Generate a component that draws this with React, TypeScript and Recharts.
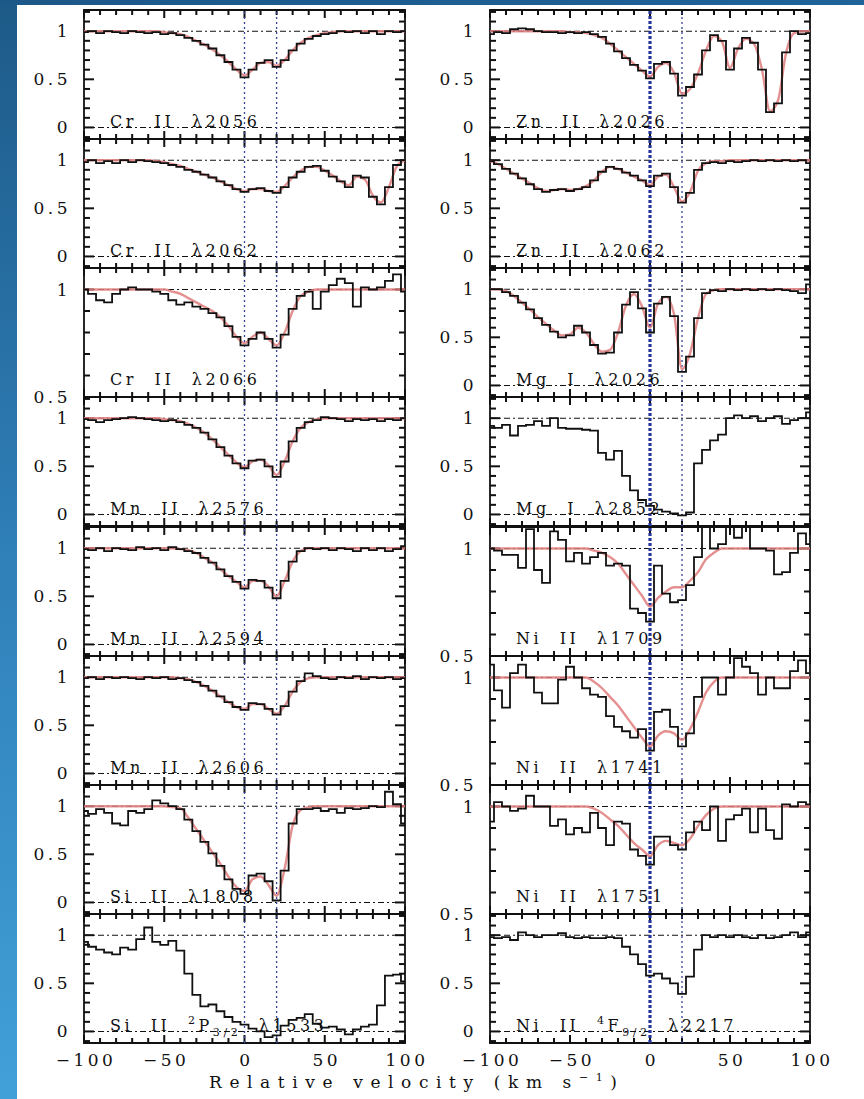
import React from 'react'
import { LineChart, Line, XAxis, YAxis, ReferenceLine, ReferenceArea } from 'recharts'

// velocity grid (km/s) shared by every panel
const VELOCITY = [-100, -95, -90, -85, -80, -75, -70, -65, -60, -55, -50, -45, -40, -35, -30, -25, -20, -15, -10, -5, 0, 5, 10, 15, 20, 25, 30, 35, 40, 45, 50, 55, 60, 65, 70, 75, 80, 85, 90, 95, 100]

const X_MINOR = [-100, -90, -80, -70, -60, -50, -40, -30, -20, -10, 0, 10, 20, 30, 40, 50, 60, 70, 80, 90, 100]
const X_MAJOR = [-100, -50, 0, 50, 100]
const Y_MINOR_FULL = [-0.1, 0, 0.1, 0.2, 0.3, 0.4, 0.5, 0.6, 0.7, 0.8, 0.9, 1, 1.1, 1.2]
const Y_MINOR_HALF = [0.5, 0.6, 0.7, 0.8, 0.9, 1, 1.1]
const Y_MAJOR_FULL = [0, 0.5, 1]
const Y_MAJOR_HALF = [0.5, 1]

// normalised flux (black histogram) and fit (red) per transition
const CR2056 = [0.99, 1.0, 0.98, 1.0, 0.99, 0.98, 1.0, 0.99, 0.98, 0.99, 0.97, 0.98, 0.96, 0.93, 0.90, 0.86, 0.82, 0.75, 0.68, 0.60, 0.52, 0.60, 0.67, 0.70, 0.63, 0.70, 0.80, 0.87, 0.92, 0.95, 0.97, 0.98, 1.0, 0.99, 1.0, 0.98, 1.0, 0.97, 1.0, 0.99, 1.0]
const CR2056_FIT = [1, 1, 1, 1, 1, 1, 1, 1, 1, 1, 0.99, 0.98, 0.97, 0.94, 0.90, 0.86, 0.81, 0.75, 0.68, 0.60, 0.54, 0.60, 0.67, 0.68, 0.64, 0.70, 0.80, 0.88, 0.93, 0.96, 0.98, 0.99, 1, 1, 1, 1, 1, 1, 1, 1, 1]

const CR2062 = [0.98, 1.0, 0.97, 0.99, 0.97, 1.0, 0.98, 1.0, 0.99, 0.98, 0.97, 0.95, 0.93, 0.90, 0.88, 0.85, 0.82, 0.78, 0.74, 0.70, 0.67, 0.70, 0.71, 0.68, 0.66, 0.72, 0.82, 0.88, 0.93, 0.94, 0.89, 0.83, 0.78, 0.72, 0.84, 0.82, 0.62, 0.54, 0.72, 0.95, 1.0]
const CR2062_FIT = [1, 1, 1, 1, 1, 1, 1, 1, 1, 0.99, 0.98, 0.96, 0.94, 0.91, 0.88, 0.85, 0.82, 0.78, 0.74, 0.70, 0.68, 0.70, 0.70, 0.68, 0.67, 0.73, 0.82, 0.89, 0.93, 0.93, 0.89, 0.84, 0.78, 0.74, 0.83, 0.80, 0.63, 0.56, 0.72, 0.94, 1.0]

const CR2066 = [1.0, 0.98, 0.95, 0.94, 0.98, 1.0, 1.01, 1.0, 1.0, 0.99, 0.98, 0.95, 0.93, 0.94, 0.92, 0.91, 0.89, 0.87, 0.83, 0.78, 0.74, 0.77, 0.80, 0.77, 0.73, 0.79, 0.91, 0.97, 0.99, 0.91, 0.99, 1.02, 1.05, 1.03, 0.92, 1.01, 1.0, 1.01, 1.04, 1.07, 0.99]
const CR2066_FIT = [1, 1, 1, 1, 1, 1, 1, 1, 1, 1, 1, 0.99, 0.98, 0.96, 0.94, 0.92, 0.90, 0.87, 0.83, 0.78, 0.75, 0.78, 0.80, 0.77, 0.74, 0.80, 0.90, 0.97, 0.99, 1, 1, 1, 1, 1, 1, 1, 1, 1, 1, 1, 1]

const MN2576 = [0.99, 0.98, 0.96, 0.98, 0.99, 1.0, 1.01, 1.0, 0.99, 0.98, 0.97, 0.98, 0.96, 0.93, 0.90, 0.85, 0.78, 0.70, 0.61, 0.53, 0.48, 0.56, 0.57, 0.50, 0.39, 0.55, 0.76, 0.90, 0.96, 0.98, 1.01, 1.0, 0.99, 0.97, 0.99, 0.98, 0.99, 0.97, 0.99, 0.98, 1.0]
const MN2576_FIT = [1, 1, 1, 1, 1, 1, 1, 1, 1, 1, 0.99, 0.98, 0.97, 0.94, 0.90, 0.85, 0.78, 0.70, 0.62, 0.54, 0.49, 0.55, 0.57, 0.51, 0.41, 0.55, 0.76, 0.90, 0.96, 0.99, 1, 1, 1, 1, 1, 1, 1, 1, 1, 1, 1]

const MN2594 = [0.99, 0.98, 1.0, 0.97, 1.0, 0.99, 0.98, 1.01, 0.99, 1.0, 0.98, 1.01, 0.99, 0.97, 0.95, 0.90, 0.85, 0.78, 0.71, 0.65, 0.58, 0.67, 0.66, 0.59, 0.48, 0.66, 0.86, 0.97, 1.0, 0.99, 1.0, 0.98, 1.0, 0.99, 0.97, 1.0, 0.98, 1.0, 0.97, 0.99, 1.02]
const MN2594_FIT = [1, 1, 1, 1, 1, 1, 1, 1, 1, 1, 1, 1, 0.99, 0.98, 0.95, 0.90, 0.85, 0.78, 0.71, 0.65, 0.59, 0.66, 0.66, 0.60, 0.50, 0.66, 0.86, 0.97, 1, 1, 1, 1, 1, 1, 1, 1, 1, 1, 1, 1, 1]

const MN2606 = [0.99, 1.0, 0.98, 1.0, 0.99, 1.0, 0.99, 0.98, 1.0, 0.99, 1.0, 0.98, 0.99, 0.97, 0.95, 0.91, 0.86, 0.80, 0.74, 0.69, 0.66, 0.73, 0.72, 0.67, 0.61, 0.70, 0.85, 0.96, 1.04, 1.01, 0.99, 0.98, 1.0, 0.99, 1.01, 0.98, 1.0, 0.99, 1.0, 0.98, 0.99]
const MN2606_FIT = [1, 1, 1, 1, 1, 1, 1, 1, 1, 1, 1, 1, 0.99, 0.98, 0.95, 0.91, 0.86, 0.80, 0.74, 0.69, 0.67, 0.72, 0.72, 0.67, 0.62, 0.70, 0.85, 0.95, 0.99, 1, 1, 1, 1, 1, 1, 1, 1, 1, 1, 1, 1]

const SI1808 = [0.95, 0.92, 0.97, 0.93, 0.82, 0.80, 0.95, 0.93, 0.97, 1.06, 1.03, 1.0, 0.97, 0.86, 0.74, 0.63, 0.51, 0.38, 0.24, 0.14, 0.09, 0.28, 0.30, 0.22, 0.02, 0.33, 0.82, 0.97, 0.97, 0.98, 0.95, 0.97, 0.93, 0.98, 0.97, 0.98, 1.0, 0.99, 1.15, 1.02, 0.82]
const SI1808_FIT = [1, 1, 1, 1, 1, 1, 1, 1, 1, 1, 1, 0.99, 0.98, 0.88, 0.76, 0.64, 0.52, 0.40, 0.27, 0.16, 0.12, 0.24, 0.27, 0.18, 0.07, 0.35, 0.80, 0.96, 0.99, 1, 1, 1, 1, 1, 1, 1, 1, 1, 1, 1, 1]

const SI1533 = [0.93, 0.88, 0.85, 0.82, 0.80, 0.87, 0.85, 0.96, 1.08, 0.93, 0.90, 0.94, 0.84, 0.60, 0.38, 0.26, 0.28, 0.21, 0.15, 0.10, 0.07, 0.03, 0.0, -0.06, -0.04, 0.06, 0.12, 0.14, 0.18, 0.08, 0.04, 0.05, 0.02, -0.03, 0.02, 0.05, 0.07, 0.27, 0.58, 0.59, 0.52]

const ZN2026 = [0.97, 0.99, 0.98, 1.02, 1.03, 1.02, 1.0, 0.99, 0.99, 0.98, 0.99, 0.98, 0.99, 0.97, 0.94, 0.87, 0.79, 0.72, 0.65, 0.59, 0.51, 0.66, 0.68, 0.56, 0.33, 0.42, 0.55, 0.80, 0.96, 0.90, 0.60, 0.82, 0.93, 0.88, 0.60, 0.16, 0.25, 0.78, 1.0, 0.97, 0.98]
const ZN2026_FIT = [1, 1, 1, 1, 1, 1, 1, 1, 1, 1, 0.99, 0.99, 0.98, 0.96, 0.93, 0.87, 0.80, 0.73, 0.66, 0.59, 0.53, 0.63, 0.67, 0.57, 0.35, 0.40, 0.56, 0.80, 0.95, 0.89, 0.62, 0.82, 0.92, 0.87, 0.60, 0.17, 0.28, 0.77, 0.98, 1, 1]

const ZN2062 = [0.99, 0.96, 0.91, 0.86, 0.81, 0.75, 0.70, 0.67, 0.69, 0.70, 0.68, 0.70, 0.72, 0.79, 0.88, 0.93, 0.91, 0.87, 0.84, 0.79, 0.73, 0.84, 0.86, 0.72, 0.56, 0.66, 0.90, 0.97, 0.98, 0.97, 0.99, 0.98, 0.99, 1.0, 0.99, 1.0, 0.99, 1.0, 0.99, 1.0, 0.97]
const ZN2062_FIT = [0.99, 0.96, 0.91, 0.86, 0.81, 0.76, 0.71, 0.68, 0.69, 0.70, 0.69, 0.70, 0.73, 0.79, 0.88, 0.93, 0.91, 0.87, 0.83, 0.79, 0.74, 0.83, 0.85, 0.72, 0.57, 0.67, 0.89, 0.97, 0.99, 0.99, 1, 1, 1, 1, 1, 1, 1, 1, 1, 1, 1]

const MG2026 = [1.0, 1.0, 0.97, 0.93, 0.86, 0.79, 0.70, 0.63, 0.56, 0.50, 0.52, 0.62, 0.55, 0.42, 0.33, 0.34, 0.55, 0.84, 0.97, 0.80, 0.55, 0.85, 0.92, 0.72, 0.14, 0.30, 0.70, 0.96, 0.99, 0.98, 1.0, 0.99, 1.0, 0.99, 1.0, 0.99, 1.0, 0.99, 0.98, 0.96, 1.05]
const MG2026_FIT = [1, 1, 0.98, 0.93, 0.86, 0.79, 0.71, 0.64, 0.57, 0.52, 0.53, 0.60, 0.55, 0.43, 0.35, 0.37, 0.55, 0.83, 0.95, 0.82, 0.60, 0.85, 0.92, 0.74, 0.17, 0.33, 0.70, 0.95, 0.99, 1, 1, 1, 1, 1, 1, 1, 1, 1, 1, 1, 1]

const MG2852 = [0.92, 0.90, 0.93, 0.82, 0.92, 0.93, 0.97, 0.92, 1.0, 0.90, 0.89, 0.89, 0.88, 0.87, 0.64, 0.57, 0.66, 0.40, 0.25, 0.15, 0.09, 0.05, 0.03, 0.01, -0.01, 0.02, 0.53, 0.67, 0.77, 0.83, 1.0, 1.03, 1.0, 1.02, 0.97, 1.0, 1.02, 0.94, 0.98, 1.0, 1.06]

const NI1709 = [1.0, 0.99, 0.97, 0.97, 0.91, 1.09, 0.90, 0.84, 1.08, 1.04, 0.94, 0.98, 0.93, 0.96, 0.98, 0.92, 0.93, 0.92, 0.72, 0.70, 0.66, 0.92, 0.79, 0.75, 0.76, 0.83, 0.96, 1.10, 1.0, 1.02, 1.10, 1.05, 1.10, 1.0, 1.0, 0.99, 0.88, 0.89, 0.98, 1.07, 1.02]
const NI1709_FIT = [1, 1, 1, 1, 1, 1, 1, 1, 1, 1, 1, 1, 1, 0.99, 0.98, 0.96, 0.93, 0.88, 0.83, 0.78, 0.73, 0.77, 0.80, 0.82, 0.82, 0.85, 0.89, 0.95, 0.98, 1, 1, 1, 1, 1, 1, 1, 1, 1, 1, 1, 1]

const NI1741 = [1.06, 0.94, 0.86, 1.02, 1.06, 1.0, 0.93, 0.88, 0.88, 0.99, 1.05, 1.0, 0.95, 0.92, 0.91, 0.82, 0.77, 0.75, 0.72, 0.76, 0.66, 0.84, 0.85, 0.77, 0.68, 0.74, 0.91, 1.0, 1.0, 0.92, 1.0, 1.09, 1.05, 1.02, 0.92, 1.0, 0.95, 0.95, 1.03, 1.08, 1.02]
const NI1741_FIT = [1, 1, 1, 1, 1, 1, 1, 1, 1, 1, 1, 1, 1, 0.98, 0.95, 0.91, 0.87, 0.82, 0.77, 0.72, 0.68, 0.73, 0.75, 0.74, 0.71, 0.76, 0.84, 0.93, 0.98, 1, 1, 1, 1, 1, 1, 1, 1, 1, 1, 1, 1]

const NI1751 = [0.93, 1.02, 1.0, 0.98, 0.99, 1.05, 1.0, 1.0, 0.91, 0.94, 0.87, 0.90, 0.88, 0.97, 0.90, 0.82, 0.93, 0.92, 0.80, 0.77, 0.73, 0.86, 0.86, 0.82, 0.80, 0.88, 0.93, 0.89, 1.0, 0.84, 0.94, 0.96, 0.99, 0.88, 0.99, 0.89, 0.85, 1.01, 1.0, 1.02, 1.01]
const NI1751_FIT = [1, 1, 1, 1, 1, 1, 1, 1, 1, 1, 1, 1, 1, 0.99, 0.97, 0.94, 0.91, 0.87, 0.83, 0.80, 0.77, 0.82, 0.84, 0.83, 0.82, 0.85, 0.91, 0.96, 0.99, 1, 1, 1, 1, 1, 1, 1, 1, 1, 1, 1, 1]

const NI2217 = [0.98, 0.97, 0.98, 0.95, 1.03, 1.0, 0.98, 1.0, 1.0, 1.02, 0.98, 0.97, 0.98, 0.97, 0.97, 0.98, 0.97, 0.88, 0.80, 0.70, 0.58, 0.60, 0.55, 0.50, 0.39, 0.57, 0.85, 1.0, 0.98, 1.0, 0.98, 1.0, 0.98, 0.97, 1.0, 0.97, 0.98, 1.0, 1.03, 0.98, 1.03]

type Panel = {
  ion: string
  line: string
  level?: [string, string, string]
  flux: number[]
  fit?: number[]
  half?: boolean
}

const LEFT_PANELS: Panel[] = [
  { ion: 'Cr  II', line: 'λ2056', flux: CR2056, fit: CR2056_FIT },
  { ion: 'Cr  II', line: 'λ2062', flux: CR2062, fit: CR2062_FIT },
  { ion: 'Cr  II', line: 'λ2066', flux: CR2066, fit: CR2066_FIT, half: true },
  { ion: 'Mn  II', line: 'λ2576', flux: MN2576, fit: MN2576_FIT },
  { ion: 'Mn  II', line: 'λ2594', flux: MN2594, fit: MN2594_FIT },
  { ion: 'Mn  II', line: 'λ2606', flux: MN2606, fit: MN2606_FIT },
  { ion: 'Si  II', line: 'λ1808', flux: SI1808, fit: SI1808_FIT },
  { ion: 'Si  II', line: 'λ1533', level: ['2', 'P', '3/2'], flux: SI1533 },
]

const RIGHT_PANELS: Panel[] = [
  { ion: 'Zn  II', line: 'λ2026', flux: ZN2026, fit: ZN2026_FIT },
  { ion: 'Zn  II', line: 'λ2062', flux: ZN2062, fit: ZN2062_FIT },
  { ion: 'Mg  I', line: 'λ2026', flux: MG2026, fit: MG2026_FIT },
  { ion: 'Mg  I', line: 'λ2852', flux: MG2852 },
  { ion: 'Ni  II', line: 'λ1709', flux: NI1709, fit: NI1709_FIT, half: true },
  { ion: 'Ni  II', line: 'λ1741', flux: NI1741, fit: NI1741_FIT, half: true },
  { ion: 'Ni  II', line: 'λ1751', flux: NI1751, fit: NI1751_FIT, half: true },
  { ion: 'Ni  II', line: 'λ2217', level: ['4', 'F', '9/2'], flux: NI2217 },
]

const FONT = "'DejaVu Serif', 'Liberation Serif', serif"
const INK = '#111'
const COL_LEFT = [84, 490]
const COL_WIDTH = [321, 320]
const ROW_TOP = [10, 139, 268, 397, 527, 656, 785, 914]
const ROW_H = 129

const near = (a: number, b: number) => Math.abs(a - b) < 1e-6
const fmt = (v: number) => (v < 0 ? '\u2212' + Math.abs(v) : String(v))
const noLabel = () => <g />

const xLabel = (props: any) => (
  <text x={props.x + 2} y={props.y + 23} textAnchor="middle" fontFamily={FONT} fontSize={17} letterSpacing={3.5} fill={INK}>
    {fmt(props.payload.value)}
  </text>
)

const yLabel = (props: any) => (
  <text x={props.x - 13} y={props.y} textAnchor="end" dominantBaseline="central" fontFamily={FONT} fontSize={17} letterSpacing={3.5} fill={INK}>
    {String(props.payload.value)}
  </text>
)

function SpectrumPanel({ panel, col, row }: { panel: Panel; col: number; row: number }) {
  const last = row === ROW_TOP.length - 1
  const margin = { top: 3, right: 25, bottom: last ? 35 : 13, left: 61 }
  const width = COL_WIDTH[col] + margin.left + margin.right + 1
  const height = ROW_H + margin.top + margin.bottom + 1
  const [lo, hi] = panel.half ? [0.5, 1.1] : [-0.12, 1.22]
  const yMinor = panel.half ? Y_MINOR_HALF : Y_MINOR_FULL
  const yMajor = panel.half ? Y_MAJOR_HALF : Y_MAJOR_FULL
  const rows = VELOCITY.map((v, i) => ({ v, flux: panel.flux[i], fit: panel.fit ? panel.fit[i] : null }))
  // tick lengths (px) converted to data units of each axis
  const yPerPx = (hi - lo) / ROW_H
  const xPerPx = 200 / COL_WIDTH[col]
  const xTickLen = (v: number) => (X_MAJOR.includes(v) ? 8 : 5) * yPerPx
  const yTickLen = (t: number) => (yMajor.some((m) => near(m, t)) ? 10 : 6) * xPerPx
  const tickProps = { stroke: INK, strokeWidth: 2, ifOverflow: 'visible' as const }
  const zeroLine = col === 1 ? { stroke: '#25349a', strokeWidth: 3.2, dash: '3 2' } : { stroke: '#33449a', strokeWidth: 1.3, dash: '2 3' }

  return (
    <div style={{ position: 'absolute', left: COL_LEFT[col] - margin.left - 1, top: ROW_TOP[row] - margin.top }}>
      <LineChart width={width} height={height} data={rows} margin={margin}>
        <XAxis dataKey="v" type="number" domain={[-100, 100]} allowDataOverflow ticks={X_MAJOR} interval={0}
          height={1} tickSize={0} tickMargin={0} tickLine={false} axisLine={false} tick={last ? xLabel : noLabel} />
        <YAxis type="number" domain={[lo, hi]} allowDataOverflow ticks={yMajor} interval={0}
          width={1} tickSize={0} tickMargin={0} tickLine={false} axisLine={false} tick={yLabel} />
        <ReferenceArea x1={-100} x2={100} y1={lo} y2={hi} fill="none" fillOpacity={0} stroke={INK} strokeWidth={1.8} ifOverflow="visible" />
        {X_MINOR.map((v) => (
          <ReferenceLine key={'xb' + v} segment={[{ x: v, y: lo }, { x: v, y: lo + xTickLen(v) }]} {...tickProps} />
        ))}
        {X_MINOR.map((v) => (
          <ReferenceLine key={'xt' + v} segment={[{ x: v, y: hi }, { x: v, y: hi - xTickLen(v) }]} {...tickProps} />
        ))}
        {yMinor.map((t) => (
          <ReferenceLine key={'yl' + t} segment={[{ x: -100, y: t }, { x: -100 + yTickLen(t), y: t }]} {...tickProps} />
        ))}
        {yMinor.map((t) => (
          <ReferenceLine key={'yr' + t} segment={[{ x: 100, y: t }, { x: 100 - yTickLen(t), y: t }]} {...tickProps} />
        ))}
        <ReferenceLine y={1} stroke={INK} strokeWidth={1.1} strokeDasharray="6 3 2 3" />
        <ReferenceLine y={0} stroke={INK} strokeWidth={1.1} strokeDasharray="6 3 2 3" />
        <ReferenceLine x={0} stroke={zeroLine.stroke} strokeWidth={zeroLine.strokeWidth} strokeDasharray={zeroLine.dash} />
        <ReferenceLine x={20} stroke="#33449a" strokeWidth={1.3} strokeDasharray="2 3" />
        {panel.fit && (
          <Line dataKey="fit" type="monotone" stroke="#e07c7c" strokeWidth={2.4} strokeOpacity={0.85} dot={false} isAnimationActive={false} />
        )}
        <Line dataKey="flux" type="step" stroke="#111" strokeWidth={1.8} dot={false} isAnimationActive={false} />
      </LineChart>
    </div>
  )
}

function PanelLabel({ panel, col, row }: { panel: Panel; col: number; row: number }) {
  const x = COL_LEFT[col] + 26
  const y = ROW_TOP[row] + 117
  return (
    <text x={x} y={y} fontFamily={FONT} fontSize={16} letterSpacing={3.6} fill={INK} style={{ whiteSpace: 'pre' }}>
      {panel.ion + '  '}
      {panel.level ? (
        <>
          <tspan fontSize={11} dy={-7}>{panel.level[0]}</tspan>
          <tspan dy={7}>{panel.level[1]}</tspan>
          <tspan fontSize={11} dy={5}>{panel.level[2]}</tspan>
          <tspan dy={-5}>{'  ' + panel.line}</tspan>
        </>
      ) : (
        panel.line
      )}
    </text>
  )
}

export default function App() {
  return (
    <div style={{ position: 'absolute', left: 0, top: 0, width: 864, height: 1099, background: '#fff', overflow: 'hidden' }}>
      <div style={{ position: 'absolute', left: 0, top: 0, width: 17, height: 1099, background: 'linear-gradient(180deg, #1d5a88 0%, #2f7fb8 50%, #42a0d8 100%)' }} />
      <div style={{ position: 'absolute', left: 0, top: 0, width: 864, height: 5, background: 'linear-gradient(90deg, #1c5888 0%, #1f639a 100%)' }} />
      {LEFT_PANELS.map((p, i) => (
        <SpectrumPanel key={'l' + i} panel={p} col={0} row={i} />
      ))}
      {RIGHT_PANELS.map((p, i) => (
        <SpectrumPanel key={'r' + i} panel={p} col={1} row={i} />
      ))}
      <svg width={864} height={1099} style={{ position: 'absolute', left: 0, top: 0, pointerEvents: 'none' }}>
        {LEFT_PANELS.map((p, i) => (
          <PanelLabel key={'lt' + i} panel={p} col={0} row={i} />
        ))}
        {RIGHT_PANELS.map((p, i) => (
          <PanelLabel key={'rt' + i} panel={p} col={1} row={i} />
        ))}
        <text x={209} y={1088} fontFamily={FONT} fontSize={17} fill={INK} textLength={408} lengthAdjust="spacing">
          Relative velocity (km s
          <tspan fontSize={11} dy={-7}>{'\u22121'}</tspan>
          <tspan dy={7}>)</tspan>
        </text>
      </svg>
    </div>
  )
}
